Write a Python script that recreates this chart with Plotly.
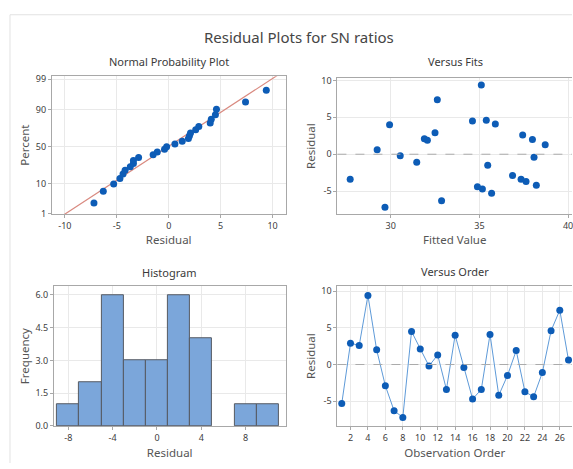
import plotly.graph_objects as go
from statistics import NormalDist, mean, stdev

# ---- data ----
observation = list(range(1, 28))
residuals = [-5.3, 2.9, 2.6, 9.4, 2.0, -2.9, -6.3, -7.2, 4.5, 2.1, -0.2, 1.3, -3.4, 4.0,
             -0.4, -4.7, -3.4, 4.1, -4.2, -1.5, 1.9, -3.7, -4.4, -1.1, 4.6, 7.4, 0.6]
fits = [35.69, 32.50, 37.44, 35.11, 37.99, 36.87, 32.87, 29.68, 34.61, 31.90, 30.54, 38.71,
        37.35, 29.94, 38.08, 35.17, 27.72, 35.90, 38.21, 35.47, 32.07, 37.63, 34.89, 31.47,
        35.39, 32.63, 29.24]
pct_ticks = [1, 10, 50, 90, 99]
npp_x_ticks = [-10, -5, 0, 5, 10]
fit_ticks = [30, 35, 40]
res_ticks = [-5, 0, 5, 10]
hist_ticks = [-8, -4, 0, 4, 8]
freq_ticks = [0, 1.5, 3.0, 4.5, 6.0]
order_ticks = list(range(2, 27, 2))

# ---- derived (normal probability plot) ----
nd = NormalDist()
n = len(residuals)
sorted_res = sorted(residuals)
z_pos = [nd.inv_cdf((i + 1 - 0.3) / (n + 0.4)) for i in range(n)]
mu, sd = mean(residuals), stdev(residuals)
line_x = [-12, 12]
line_z = [(v - mu) / sd for v in line_x]
pct_z = [nd.inv_cdf(p / 100) for p in pct_ticks]

BLUE = "#0d5cb6"
FONT = "Noto Sans"
W, H = 573, 469


def px_x(a, b):
    return [a / W, b / W]


def px_y(top, bottom):
    return [(H - bottom) / H, (H - top) / H]


def labels(vals, fmt="{:g}"):
    return [fmt.format(v) for v in vals]


axis_style = dict(showline=True, mirror=True, linecolor="#a8a8a8", linewidth=1,
                  gridcolor="#e9e9e9", gridwidth=1, ticks="outside", ticklen=3,
                  tickcolor="#a8a8a8", zeroline=False, ticklabeloverflow="allow",
                  tickfont=dict(family=FONT, size=9, color="#404040"),
                  title_font=dict(family=FONT, size=11.5, color="#555555"))

fig = go.Figure()

# Normal probability plot
fig.add_trace(go.Scatter(x=line_x, y=line_z, mode="lines",
                         line=dict(color="#d98a80", width=1.2),
                         xaxis="x", yaxis="y", showlegend=False, hoverinfo="skip"))
fig.add_trace(go.Scatter(x=sorted_res, y=z_pos, mode="markers",
                         marker=dict(color=BLUE, size=7),
                         xaxis="x", yaxis="y", showlegend=False))

# Versus fits
fig.add_trace(go.Scatter(x=fits, y=residuals, mode="markers",
                         marker=dict(color=BLUE, size=7),
                         xaxis="x2", yaxis="y2", showlegend=False))

# Histogram
fig.add_trace(go.Histogram(x=residuals, xbins=dict(start=-9, end=11, size=2),
                           marker=dict(color="#7ba6da", line=dict(color="#555a62", width=1)),
                           xaxis="x3", yaxis="y3", showlegend=False))

# Versus order
fig.add_trace(go.Scatter(x=observation, y=residuals, mode="lines+markers",
                         line=dict(color="#5e9ad8", width=1),
                         marker=dict(color=BLUE, size=7),
                         xaxis="x4", yaxis="y4", showlegend=False))

layout = dict(
    width=W, height=H,
    margin=dict(l=0, r=0, t=0, b=0),
    paper_bgcolor="white", plot_bgcolor="white",
    font=dict(family=FONT),
    bargap=0,
    xaxis=dict(axis_style, domain=px_x(52, 286), anchor="y", range=[-11.25, 11.25],
               tickvals=npp_x_ticks, ticktext=labels(npp_x_ticks),
               title=dict(text="Residual", standoff=5)),
    yaxis=dict(axis_style, domain=px_y(73, 214), anchor="x", range=[pct_z[0], 2.43],
               tickvals=pct_z, ticktext=labels(pct_ticks), title=dict(text="Percent", standoff=3)),
    xaxis2=dict(axis_style, domain=px_x(338, 573), anchor="y2", range=[27.0, 40.22],
                tickvals=fit_ticks, ticktext=labels(fit_ticks),
                title=dict(text="Fitted Value", standoff=5)),
    yaxis2=dict(axis_style, mirror=False, domain=px_y(75, 214), anchor="x2", range=[-8.1, 10.3],
                tickvals=res_ticks, ticktext=labels(res_ticks),
                title=dict(text="Residual", standoff=3)),
    xaxis3=dict(axis_style, domain=px_x(54, 286), anchor="y3", range=[-9.3, 11.6],
                tickvals=hist_ticks, ticktext=labels(hist_ticks),
                title=dict(text="Residual", standoff=6)),
    yaxis3=dict(axis_style, domain=px_y(288, 431), anchor="x3", range=[0, 6.4],
                tickvals=freq_ticks, ticktext=labels(freq_ticks, "{:.1f}"),
                title=dict(text="Frequency", standoff=3)),
    xaxis4=dict(axis_style, domain=px_x(338, 573), anchor="y4", range=[0.5, 27.4],
                tickvals=order_ticks, ticktext=labels(order_ticks),
                title=dict(text="Observation Order", standoff=6)),
    yaxis4=dict(axis_style, mirror=False, domain=px_y(288, 431), anchor="x4", range=[-8.36, 10.66],
                tickvals=res_ticks, ticktext=labels(res_ticks),
                title=dict(text="Residual", standoff=3)),
)
fig.update_layout(**layout)

# reference lines at zero
for xr, yr in [("x2", "y2"), ("x4", "y4")]:
    fig.add_shape(type="line", xref=f"{xr} domain", yref=yr, x0=0, x1=1, y0=0, y1=0,
                  line=dict(color="#ababab", width=1, dash="dash"))

# window border
fig.add_shape(type="line", xref="paper", yref="paper", x0=10 / W, x1=1, y0=(H - 10) / H,
              y1=(H - 10) / H, line=dict(color="#e2e2e2", width=1))
fig.add_shape(type="line", xref="paper", yref="paper", x0=10 / W, x1=10 / W, y0=0,
              y1=(H - 10) / H, line=dict(color="#e2e2e2", width=1))

# titles
fig.add_annotation(text="Residual Plots for SN ratios", xref="paper", yref="paper",
                   x=300 / W, y=(H - 33) / H, xanchor="center", yanchor="middle",
                   showarrow=False, font=dict(family=FONT, size=15, color="#454545"))
for txt, cx, cy in [("Normal Probability Plot", 169, 58), ("Versus Fits", 456, 58),
                    ("Histogram", 169, 274), ("Versus Order", 456, 273)]:
    fig.add_annotation(text=txt, xref="paper", yref="paper", x=cx / W, y=(H - cy) / H,
                       xanchor="center", yanchor="middle", showarrow=False,
                       font=dict(family=FONT, size=11, color="#3a3a3a"))

fig.write_html("out.html", config={"displayModeBar": False},
               post_script="document.body.style.margin='0';")
